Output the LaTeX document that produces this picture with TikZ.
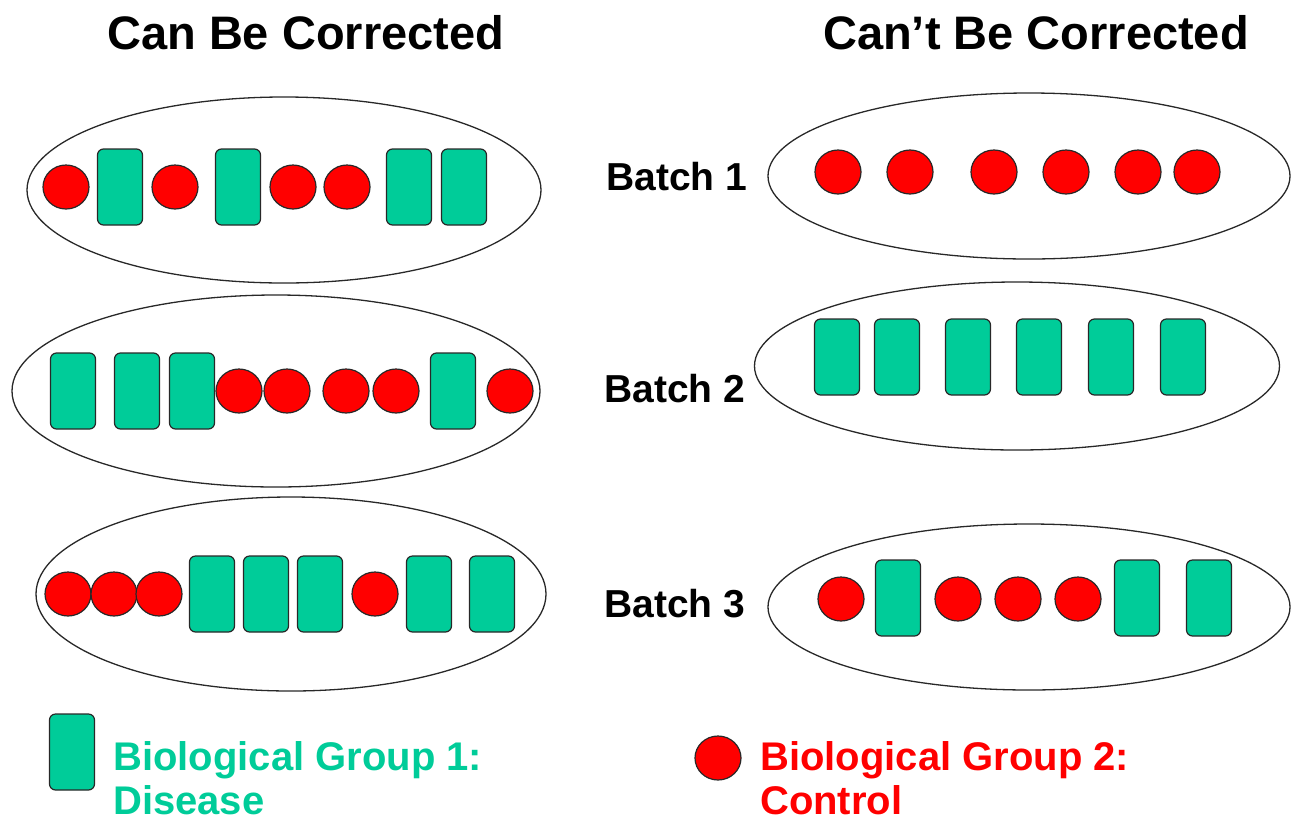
\documentclass[tikz,border=0pt]{standalone}
\usepackage{fontspec}
\setmainfont{Liberation Sans}
\usetikzlibrary{shapes.geometric}
\definecolor{grpteal}{RGB}{0,204,153}
\definecolor{grpred}{RGB}{255,0,0}
\definecolor{edge}{RGB}{40,40,40}
\tikzset{
  sample/.style={draw=edge, line width=1.2pt, inner sep=0pt},
  disease/.style={sample, rectangle, rounded corners=6pt, fill=grpteal,
                  minimum width=45pt, minimum height=76pt},
  control/.style={sample, ellipse, fill=grpred,
                  minimum width=46pt, minimum height=44pt},
  batchring/.style={draw=edge, line width=1.3pt, ellipse, inner sep=0pt},
  heading/.style={font=\fontsize{47}{56}\bfseries\selectfont, anchor=base west, inner sep=0pt},
  batchlabel/.style={font=\fontsize{39}{46}\bfseries\selectfont, anchor=base west, inner sep=0pt},
  legendtext/.style={font=\fontsize{40}{44}\bfseries\selectfont, anchor=north west,
                     align=left, inner sep=0pt}
}
\begin{document}
\begin{tikzpicture}[x=1pt, y=-1pt]
\useasboundingbox (0,0) rectangle (1291,823);

% column headings
\node[heading] (hleft)  at (107,49) {Can Be Corrected};
\node[heading] (hright) at (823,49) {Can’t Be Corrected};

% batch labels
\node[batchlabel] (b1) at (606,190) {Batch 1};
\node[batchlabel] (b2) at (604,402) {Batch 2};
\node[batchlabel] (b3) at (604,617) {Batch 3};

% balanced batches
\node[batchring, minimum width=514pt, minimum height=186pt] (L1) at (284,190) {};
\node[batchring, minimum width=528pt, minimum height=192pt] (L2) at (276,391) {};
\node[batchring, minimum width=510pt, minimum height=194pt] (L3) at (291,594) {};

% confounded batches
\node[batchring, minimum width=522pt, minimum height=166pt] (R1) at (1029,176) {};
\node[batchring, minimum width=525pt, minimum height=168pt] (R2) at (1017,366) {};
\node[batchring, minimum width=522pt, minimum height=166pt] (R3) at (1029,607) {};

% left batch 1
\node[control] (l1a) at (66,187) {};
\node[disease] (l1b) at (120,187) {};
\node[control] (l1c) at (175,187) {};
\node[disease] (l1d) at (238,187) {};
\node[control] (l1e) at (293,187) {};
\node[control] (l1f) at (347,187) {};
\node[disease] (l1g) at (409,187) {};
\node[disease] (l1h) at (464,187) {};

% left batch 2
\node[disease] (l2a) at (73,391) {};
\node[disease] (l2b) at (137,391) {};
\node[disease] (l2c) at (192,391) {};
\node[control] (l2d) at (239,391) {};
\node[control] (l2e) at (287,391) {};
\node[control] (l2f) at (346,391) {};
\node[control] (l2g) at (396,391) {};
\node[disease] (l2h) at (453,391) {};
\node[control] (l2i) at (510,391) {};

% left batch 3
\node[control] (l3a) at (68,594) {};
\node[control] (l3b) at (114,594) {};
\node[control] (l3c) at (159,594) {};
\node[disease] (l3d) at (212,594) {};
\node[disease] (l3e) at (266,594) {};
\node[disease] (l3f) at (320,594) {};
\node[control] (l3g) at (375,594) {};
\node[disease] (l3h) at (429,594) {};
\node[disease] (l3i) at (492,594) {};

% right batch 1
\node[control] (r1a) at (838,172) {};
\node[control] (r1b) at (910,172) {};
\node[control] (r1c) at (994,172) {};
\node[control] (r1d) at (1066,172) {};
\node[control] (r1e) at (1138,172) {};
\node[control] (r1f) at (1197,172) {};

% right batch 2
\node[disease] (r2a) at (837,357) {};
\node[disease] (r2b) at (897,357) {};
\node[disease] (r2c) at (968,357) {};
\node[disease] (r2d) at (1039,357) {};
\node[disease] (r2e) at (1111,357) {};
\node[disease] (r2f) at (1183,357) {};

% right batch 3
\node[control] (r3a) at (841,599) {};
\node[disease] (r3b) at (898,598) {};
\node[control] (r3c) at (958,599) {};
\node[control] (r3d) at (1018,599) {};
\node[control] (r3e) at (1078,599) {};
\node[disease] (r3f) at (1137,598) {};
\node[disease] (r3g) at (1209,598) {};

% legend
\node[disease] (keyd) at (72,752) {};
\node[legendtext, text=grpteal] (keydtxt) at (113,741) {Biological Group 1:\\Disease};
\node[control] (keyc) at (718,758) {};
\node[legendtext, text=grpred] (keyctxt) at (760,741) {Biological Group 2:\\Control};
\end{tikzpicture}
\end{document}
